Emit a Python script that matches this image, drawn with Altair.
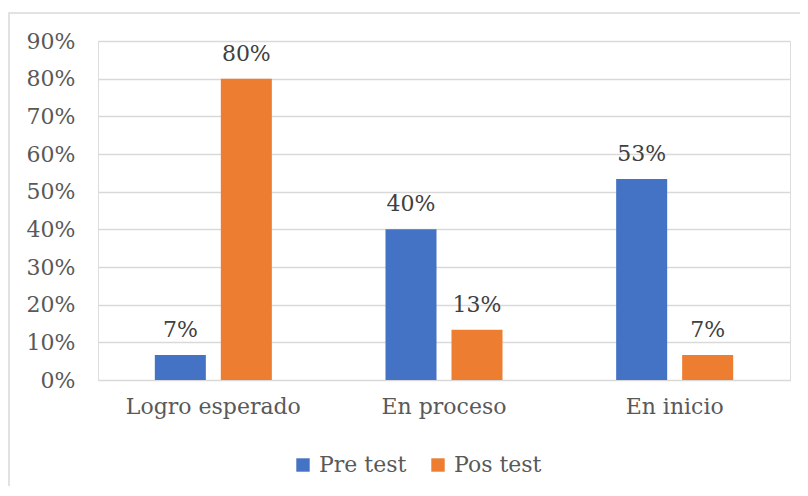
import altair as alt
import pandas as pd

categories = ["Logro esperado", "En proceso", "En inicio"]
series = ["Pre test", "Pos test"]
pre_values = [0.0667, 0.40, 0.5333]
pos_values = [0.80, 0.1333, 0.0667]
colors = ["#4472C4", "#ED7D31"]
y_ticks = [0, 0.1, 0.2, 0.3, 0.4, 0.5, 0.6, 0.7, 0.8, 0.9]

rows = []
for c, a, b in zip(categories, pre_values, pos_values):
    rows.append({"cat": c, "serie": series[0], "val": a})
    rows.append({"cat": c, "serie": series[1], "val": b})
df = pd.DataFrame(rows)

FONT = "DejaVu Serif"
FS = 22
AX_COLOR = "#595959"
GRID = "#D9D9D9"

x = alt.X(
    "cat:N", sort=categories, title=None,
    scale=alt.Scale(paddingInner=0, paddingOuter=0),
    axis=alt.Axis(labelAngle=0, labelFont=FONT, labelFontSize=FS, labelColor=AX_COLOR,
                  ticks=False, domain=False, labelPadding=16, grid=False, labelLimit=400),
)
xo = alt.XOffset("serie:N", sort=series,
                 scale=alt.Scale(domain=series, paddingInner=0.227, paddingOuter=0.861))
y = alt.Y(
    "val:Q", title=None,
    scale=alt.Scale(domain=[0, 0.9], nice=False, zero=True),
    axis=alt.Axis(values=y_ticks, format=".0%", labelFont=FONT, labelFontSize=FS,
                  labelColor=AX_COLOR, ticks=False, domain=False, labelPadding=23,
                  grid=True, gridColor=GRID, gridWidth=1.5),
)

base = alt.Chart(df)

bars = base.mark_bar().encode(
    x=x, xOffset=xo, y=y,
    color=alt.Color(
        "serie:N", sort=series,
        scale=alt.Scale(domain=series, range=colors),
        legend=alt.Legend(
            orient="none", legendX=194, legendY=413, direction="horizontal", title=None,
            symbolType="square", symbolSize=180, symbolStrokeWidth=0,
            labelFont=FONT, labelFontSize=FS, labelColor=AX_COLOR,
            columnPadding=20, labelOffset=5, labelLimit=400,
        ),
    ),
)

labels = base.mark_text(font=FONT, fontSize=FS, color="#404040", baseline="alphabetic",
                        dy=-18).encode(
    x=x, xOffset=xo, y=y, text=alt.Text("val:Q", format=".0%")
)

frame = alt.Chart(pd.DataFrame({"k": [0]})).mark_rect(
    filled=False, stroke=GRID, strokeWidth=1.5
).encode(x=alt.value(-89), x2=alt.value(730), y=alt.value(-28), y2=alt.value(520))

chart = alt.layer(frame, bars, labels).properties(
    width=692, height=339,
    autosize=alt.AutoSizeParams(type="none"),
    padding={"left": 90, "top": 33, "right": 10, "bottom": 106},
).configure_view(stroke=None).configure(background="white")

chart.save("out.html", embed_options={"renderer": "svg", "actions": False})
